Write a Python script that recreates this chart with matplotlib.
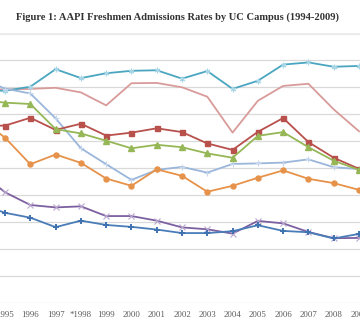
import matplotlib
matplotlib.use('Agg')
import matplotlib.pyplot as plt

# years 1994-2009, the chart is cropped so 1994 sits just off the left edge
years = list(range(1994, 2010))
tick_years = list(range(1995, 2010))
tick_labels = ['1995', '1996', '1997', '*1998', '1999', '2000', '2001', '2002',
               '2003', '2004', '2005', '2006', '2007', '2008', '2009']

# admission rates (%)
teal = [78.9, 78.6, 80.1, 86.6, 83.3, 85.1, 86.0, 86.2, 83.1, 85.9, 79.3, 82.3, 88.3, 89.1, 87.5, 87.8]
pink = [79.3, 79.1, 79.3, 79.7, 78.0, 73.2, 81.4, 81.5, 79.9, 76.4, 63.1, 74.9, 80.4, 81.2, 71.7, 63.6]
lightblue = [83.3, 79.4, 77.6, 68.4, 57.3, 51.4, 45.6, 49.3, 50.4, 48.3, 51.5, 51.7, 52.0, 53.2, 50.3, 49.6]
green = [75.2, 74.2, 73.7, 64.4, 62.8, 60.1, 57.3, 58.6, 57.7, 55.4, 53.8, 61.9, 63.3, 57.7, 52.7, 49.3]
darkred = [65.6, 65.7, 68.6, 64.1, 66.4, 62.0, 63.1, 64.7, 63.3, 59.1, 56.7, 63.4, 68.5, 59.6, 53.8, 49.7]
orange = [68.5, 61.2, 51.4, 55.0, 51.9, 46.1, 43.4, 49.5, 47.1, 41.2, 43.4, 46.4, 49.1, 46.0, 44.4, 41.9]
purple = [48.5, 41.0, 36.3, 35.4, 35.8, 32.2, 32.2, 30.5, 28.0, 27.3, 25.7, 30.4, 29.5, 26.3, 24.0, 24.1]
blue = [36.7, 33.4, 31.6, 28.1, 30.5, 28.9, 28.2, 27.2, 25.9, 25.9, 26.6, 28.8, 26.7, 26.2, 23.9, 25.6]

fig = plt.figure(figsize=(3.6, 3.34), dpi=100)
ax = fig.add_axes([0, 31 / 334, 1, 270 / 334])

# gridlines
for v in range(0, 100, 10):
    ax.axhline(v, color='#d9d9d9', lw=0.9, zorder=0)
ax.axhline(100, color='#ececec', lw=2.5, zorder=0)

lw = 1.3
ax.plot(years, pink, color='#d89b99', lw=lw)
ax.plot(years, teal, color='#4aa6c0', lw=lw, marker=(6, 2, 0), ms=4,
        mec='#a8d6e6', mew=0.8)
ax.plot(years, lightblue, color='#9ab6db', lw=lw, marker='+', ms=4,
        mec='#c5d6ec', mew=0.8)
ax.plot(years, darkred, color='#b8504c', lw=lw, marker='s', ms=3.6)
ax.plot(years, green, color='#95b756', lw=lw, marker='^', ms=3.8)
ax.plot(years, orange, color='#e6924a', lw=lw, marker='o', ms=3.6)
ax.plot(years, purple, color='#7d60a0', lw=lw, marker='x', ms=3.8,
        mec='#b9a8cf', mew=0.8)
ax.plot(years, blue, color='#4a7db8', lw=lw, marker='+', ms=4,
        mec='#3f72b0', mew=1.4)

ax.set_xlim(1994.80, 2009.04)
ax.set_ylim(0, 100)
ax.set_yticks([])
ax.set_xticks(tick_years)
ax.set_xticklabels(tick_labels, family='Liberation Serif', fontsize=6.3,
                   color='#595959')
ax.tick_params(axis='x', length=0, pad=6)
for s in ax.spines.values():
    s.set_visible(False)

fig.text(0.492, 1 - 17 / 334,
         'Figure 1: AAPI Freshmen Admissions Rates by UC Campus (1994-2009)',
         ha='center', va='center', family='Liberation Serif',
         fontweight='bold', fontsize=7.6, color='#333333')

fig.savefig('out.png', dpi=100)
